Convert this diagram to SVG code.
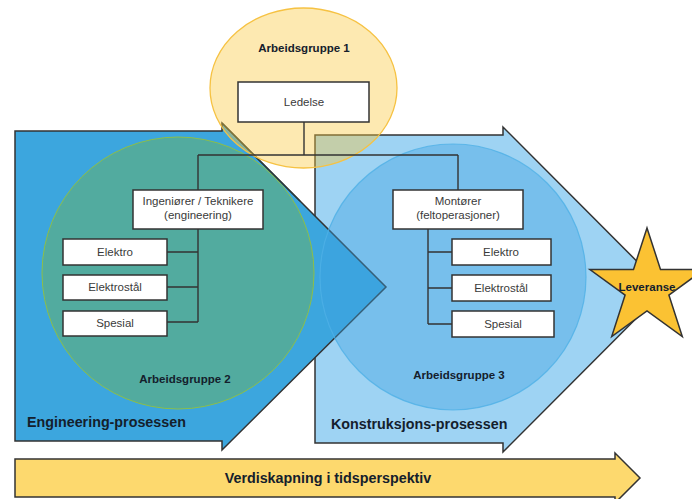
<svg xmlns="http://www.w3.org/2000/svg" width="692" height="499" viewBox="0 0 692 499">
  <style>
    .shape { stroke: #333; stroke-width: 1.5; stroke-linejoin: miter; }
    .box { fill: #fff; stroke: #333; stroke-width: 1.5; }
    .boxtxt { font-family: "Liberation Sans", Arial, sans-serif; font-size: 11.5px; fill: #3a3a3a; text-anchor: middle; }
    .grp { font-family: "Liberation Sans", Arial, sans-serif; font-size: 11.5px; font-weight: bold; fill: #14202c; text-anchor: middle; }
    .big { font-family: "Liberation Sans", Arial, sans-serif; font-size: 14.3px; font-weight: bold; fill: #14202c; }
    .conn { fill: none; stroke: #333; stroke-width: 1.4; }
  </style>

  <!-- Process arrows -->
  <g id="konstruksjon-prosess">
    <path class="shape" fill="#9ed3f3" d="M315,135 L503,135 L503,127 L665,289.5 L503,452 L503,443 L315,443 Z"/>
    <text class="big" x="331" y="429">Konstruksjons-prosessen</text>
  </g>
  <g id="engineering-prosess">
    <path class="shape" fill="#3ca6de" d="M15,131 L222,131 L222,123 L386,287 L222,450 L222,441 L15,441 Z"/>
    <text class="big" x="27" y="427">Engineering-prosessen</text>
  </g>

  <!-- Work groups -->
  <g id="arbeidsgruppe-2">
    <circle cx="178" cy="273" r="136" fill="#52ab9f" stroke="#8cbf4a" stroke-width="1"/>
    <path d="M222,123 L300,201" stroke="#2a3a3a" stroke-width="1.3" fill="none"/>
    <text class="grp" x="185" y="383">Arbeidsgruppe 2</text>
  </g>
  <g id="arbeidsgruppe-3">
    <circle cx="453" cy="277" r="133" fill="#3da3e0" fill-opacity="0.4" stroke="#4fb0e6" stroke-opacity="0.8" stroke-width="1.2"/>
    <text class="grp" x="459" y="379">Arbeidsgruppe 3</text>
  </g>
  <g id="arbeidsgruppe-1">
    <ellipse cx="303.5" cy="88" rx="93.5" ry="80" fill="#fbc93d" fill-opacity="0.4" stroke="#f6c243" stroke-width="1.3"/>
    <text class="grp" x="304" y="52">Arbeidsgruppe 1</text>
  </g>

  <!-- Org-chart connectors -->
  <g id="connectors">
    <path class="conn" d="M304,122 V155 M198,155 H458 M198,155 V190 M458,155 V190"/>
    <path class="conn" d="M198,229 V322 M167,252 H198 M167,287 H198 M167,322 H198"/>
    <path class="conn" d="M428,229 V324 M428,252 H452 M428,288 H452 M428,324 H452"/>
  </g>

  <!-- Org-chart nodes -->
  <g id="ledelse">
    <rect class="box" x="238" y="82" width="131" height="40"/>
    <text class="boxtxt" x="304" y="106">Ledelse</text>
  </g>
  <g id="ingeniorer">
    <rect class="box" x="133" y="190" width="130" height="39"/>
    <text class="boxtxt" x="198" y="205">Ingeniører / Teknikere</text>
    <text class="boxtxt" x="198" y="219">(engineering)</text>
  </g>
  <g id="eng-elektro">
    <rect class="box" x="63" y="239" width="104" height="26"/>
    <text class="boxtxt" x="115" y="256">Elektro</text>
  </g>
  <g id="eng-elektrostal">
    <rect class="box" x="63" y="275" width="104" height="25"/>
    <text class="boxtxt" x="115" y="291">Elektrostål</text>
  </g>
  <g id="eng-spesial">
    <rect class="box" x="63" y="311" width="104" height="25"/>
    <text class="boxtxt" x="115" y="327">Spesial</text>
  </g>
  <g id="montorer">
    <rect class="box" x="393" y="190" width="130" height="39"/>
    <text class="boxtxt" x="458" y="205">Montører</text>
    <text class="boxtxt" x="458" y="219">(feltoperasjoner)</text>
  </g>
  <g id="kon-elektro">
    <rect class="box" x="452" y="239" width="99" height="26"/>
    <text class="boxtxt" x="501" y="256">Elektro</text>
  </g>
  <g id="kon-elektrostal">
    <rect class="box" x="452" y="275" width="99" height="26"/>
    <text class="boxtxt" x="501" y="292">Elektrostål</text>
  </g>
  <g id="kon-spesial">
    <rect class="box" x="452" y="311" width="102" height="26"/>
    <text class="boxtxt" x="503" y="328">Spesial</text>
  </g>

  <!-- Delivery star -->
  <g id="leveranse">
    <polygon class="shape" fill="#fbc233" points="647,228 660.5,269.4 704.1,269.5 668.9,295.1 682.3,336.5 647,311 611.7,336.5 625.1,295.1 589.9,269.5 633.5,269.4"/>
    <text class="grp" x="647" y="291">Leveranse</text>
  </g>

  <!-- Value-creation timeline -->
  <g id="verdiskapning">
    <path class="shape" fill="#fdd96e" d="M15,459 L615,459 L615,453 L640,478 L615,503 L615,497 L15,497 Z"/>
    <text class="big" x="328" y="483" text-anchor="middle">Verdiskapning i tidsperspektiv</text>
  </g>
</svg>
